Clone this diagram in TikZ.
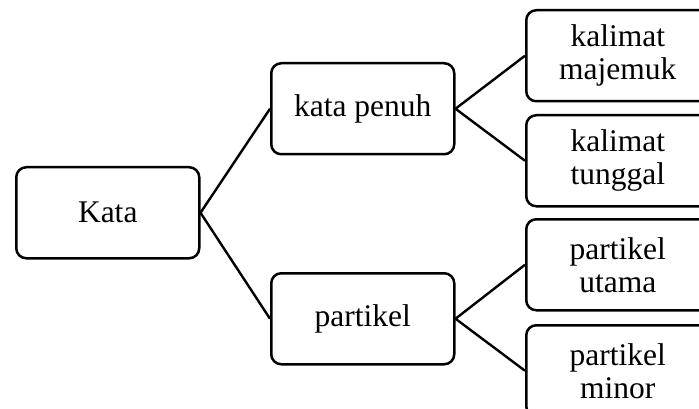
\documentclass[tikz,border=0pt]{standalone}
\usepackage{fontspec}
\setmainfont{Liberation Serif}
\begin{document}
\begin{tikzpicture}[x=1pt,y=-1pt,
  box/.style={draw=black,line width=2.5pt,rounded corners=10pt,minimum width=183pt,minimum height=91pt,inner sep=0pt,align=center,font=\fontsize{31.5}{33}\selectfont,anchor=north west},
  link/.style={draw=black,line width=2.4pt}]
\useasboundingbox (0,0) rectangle (699,409);
\begin{scope}
\clip (0,0) rectangle (699,409);
\node[box] (kata) at (15,166) {Kata};
\node[box] (penuh) at (270,62) {kata penuh};
\node[box] (part) at (270,272) {partikel};
\node[box] (maj) at (525,9) {kalimat\\majemuk};
\node[box] (tung) at (525,114) {kalimat\\tunggal};
\node[box] (utama) at (525,218) {partikel\\utama};
\node[box] (minor) at (525,324) {partikel\\minor};
\draw[link] (kata.east) -- (penuh.west);
\draw[link] (kata.east) -- (part.west);
\draw[link] (penuh.east) -- (maj.west);
\draw[link] (penuh.east) -- (tung.west);
\draw[link] (part.east) -- (utama.west);
\draw[link] (part.east) -- (minor.west);
\end{scope}
\end{tikzpicture}
\end{document}
